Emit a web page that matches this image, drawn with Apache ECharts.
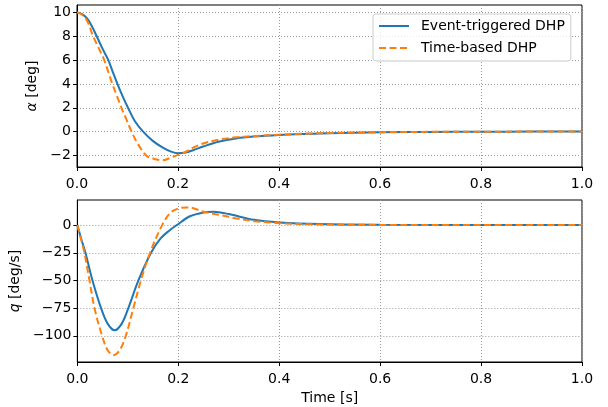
<!DOCTYPE html>
<html>
<head>
<meta charset="utf-8">
<script src="https://cdn.jsdelivr.net/npm/echarts@6/dist/echarts.min.js"></script>
<style>
html,body{margin:0;padding:0;background:#fff;}
#c{width:608px;height:407px;}
</style>
</head>
<body>
<div id="c"></div>
<script>
// ---- data ----
const seriesNames = ['Event-triggered DHP', 'Time-based DHP'];
const xTicks = [0, 0.2, 0.4, 0.6, 0.8, 1.0];
const alphaTicks = [-2, 0, 2, 4, 6, 8, 10];
const qTicks = [-100, -75, -50, -25, 0];

const alphaEvtT = [0, 0.01, 0.02, 0.03, 0.039, 0.05, 0.062, 0.07, 0.08, 0.09, 0.101, 0.115, 0.131, 0.15, 0.17, 0.185, 0.2, 0.215, 0.23, 0.25, 0.28, 0.315, 0.35, 0.4, 0.45, 0.5, 0.6, 0.7, 0.8, 0.9, 1.0];
const alphaEvt  = [10, 9.85, 9.5, 8.8, 8.0, 7.0, 6.0, 5.1, 4.0, 3.0, 2.0, 0.85, 0.0, -0.78, -1.35, -1.66, -1.82, -1.76, -1.56, -1.25, -0.85, -0.57, -0.42, -0.29, -0.2, -0.13, -0.06, -0.03, -0.01, 0, 0];

const alphaTimeT = [0, 0.01, 0.02, 0.032, 0.043, 0.054, 0.062, 0.07, 0.079, 0.088, 0.098, 0.108, 0.12, 0.137, 0.15, 0.17, 0.185, 0.2, 0.213, 0.23, 0.25, 0.28, 0.315, 0.35, 0.4, 0.45, 0.5, 0.6, 0.7, 0.8, 0.9, 1.0];
const alphaTime  = [10, 9.8, 9.3, 8.0, 7.0, 6.0, 5.0, 4.0, 3.0, 2.0, 1.0, 0.0, -1.0, -2.0, -2.25, -2.4, -2.2, -1.95, -1.75, -1.35, -1.0, -0.68, -0.48, -0.38, -0.26, -0.18, -0.12, -0.05, -0.02, -0.01, 0, 0];

const qEvtT = [0, 0.008, 0.016, 0.03, 0.047, 0.06, 0.074, 0.088, 0.101, 0.121, 0.146, 0.165, 0.182, 0.197, 0.223, 0.25, 0.27, 0.3, 0.35, 0.4, 0.48, 0.6, 0.8, 1.0];
const qEvt  = [0, -13, -25, -50, -75, -89, -95, -89, -75, -50, -25, -12, -5, 0, 8, 11.5, 12.1, 10, 4.8, 2.4, 0.9, 0.3, 0.1, 0];

const qTimeT = [0, 0.007, 0.014, 0.024, 0.034, 0.049, 0.06, 0.072, 0.084, 0.096, 0.111, 0.126, 0.144, 0.168, 0.184, 0.2, 0.215, 0.23, 0.25, 0.283, 0.316, 0.35, 0.4, 0.48, 0.6, 0.8, 1.0];
const qTime  = [0, -12, -25, -50, -75, -100, -113, -117.5, -113, -100, -75, -50, -25, 0, 11, 15, 16, 15.3, 12.1, 9.1, 6, 3.6, 1.8, 0.6, 0.2, 0, 0];

// ---- build ----
const pairs = (t, v) => t.map((x, i) => [x, v[i]]);
const minusFmt = v => (v < 0 ? '\u2212' + Math.abs(v) : String(v));
const FONT = 'DejaVu Sans';
const BLUE = '#1f77b4', ORANGE = '#ff7f0e';

function xAxisCfg(gi, withName) {
  return {
    type: 'value', gridIndex: gi, min: 0, max: 1, interval: 0.2,
    axisLine: {show: true, onZero: false, lineStyle: {color: '#000', width: 1}},
    axisTick: {show: true, inside: false, length: 4, customValues: xTicks, lineStyle: {color: '#000'}},
    axisLabel: {color: '#000', fontFamily: FONT, fontSize: 14, margin: 10,
      customValues: xTicks, formatter: v => v.toFixed(1)},
    splitLine: {show: true, lineStyle: {color: '#999', type: [1, 2], width: 1}},
    name: withName ? 'Time [s]' : '',
    nameLocation: 'middle', nameGap: 29,
    nameTextStyle: {color: '#000', fontFamily: FONT, fontSize: 14}
  };
}
function yAxisCfg(gi, min, max, ticks, name, gap) {
  return {
    type: 'value', gridIndex: gi, min: min, max: max,
    axisLine: {show: true, onZero: false, lineStyle: {color: '#000', width: 1}},
    axisTick: {show: true, inside: false, length: 4, customValues: ticks, lineStyle: {color: '#000'}},
    axisLabel: {color: '#000', fontFamily: FONT, fontSize: 14, margin: 6,
      customValues: ticks, formatter: minusFmt},
    splitLine: {show: true, lineStyle: {color: '#999', type: [1, 2], width: 1}},
    name: name, nameLocation: 'middle', nameGap: gap,
    nameTextStyle: {color: '#000', fontFamily: FONT, fontSize: 14,
      rich: {i: {fontStyle: 'italic', fontFamily: FONT, fontSize: 14, color: '#000'}}}
  };
}
function lineSeries(name, xi, data, color, dashed) {
  return {
    name: name, type: 'line', xAxisIndex: xi, yAxisIndex: xi,
    data: data, showSymbol: false, symbol: 'none', smooth: 0.35,
    lineStyle: {color: color, width: 2, type: dashed ? [7, 3.5] : 'solid'},
    itemStyle: {color: color}, animation: false, z: dashed ? 3 : 2
  };
}

const chart = echarts.init(document.getElementById('c'), null, {renderer: 'canvas'});
chart.setOption({
  backgroundColor: '#fff',
  animation: false,
  grid: [
    {left: 77, right: 26, top: 5, height: 162, show: true, borderColor: '#000', borderWidth: 1, backgroundColor: 'transparent'},
    {left: 77, right: 26, top: 200, height: 162, show: true, borderColor: '#000', borderWidth: 1, backgroundColor: 'transparent'}
  ],
  xAxis: [xAxisCfg(0, false), xAxisCfg(1, true)],
  yAxis: [
    yAxisCfg(0, -2.97, 10.62, alphaTicks, '{i|α} [deg]', 30),
    yAxisCfg(1, -123.7, 22.7, qTicks, '{i|q} [deg/s]', 50)
  ],
  legend: {
    show: true, orient: 'vertical', left: 373, top: 14,
    data: seriesNames,
    itemWidth: 30, itemHeight: 14, itemGap: 8,
    padding: [5, 6, 6, 5],
    borderColor: '#ccc', borderWidth: 1, borderRadius: 3,
    backgroundColor: 'rgba(255,255,255,0.8)',
    itemStyle: {color: 'rgba(0,0,0,0)', borderColor: 'rgba(0,0,0,0)', borderWidth: 0, opacity: 0},
    lineStyle: {width: 2},
    textStyle: {color: '#000', fontFamily: FONT, fontSize: 14, padding: [0, 0, 0, 7]}
  },
  series: [
    lineSeries(seriesNames[0], 0, pairs(alphaEvtT, alphaEvt), BLUE, false),
    lineSeries(seriesNames[1], 0, pairs(alphaTimeT, alphaTime), ORANGE, true),
    lineSeries(seriesNames[0], 1, pairs(qEvtT, qEvt), BLUE, false),
    lineSeries(seriesNames[1], 1, pairs(qTimeT, qTime), ORANGE, true)
  ]
});
</script>
</body>
</html>
